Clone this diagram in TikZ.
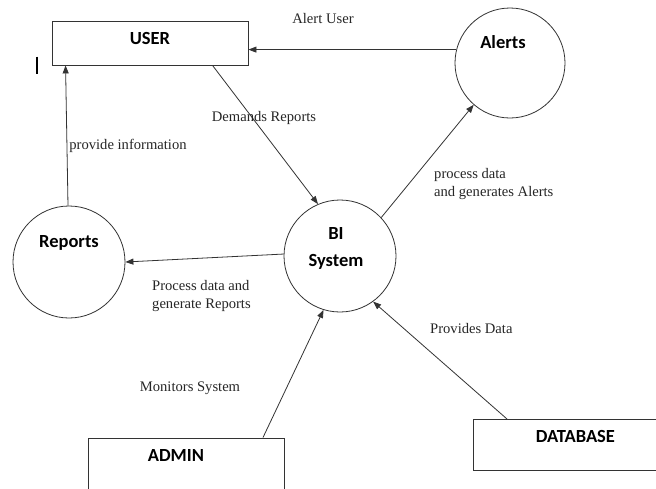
\documentclass[tikz,border=0pt]{standalone}
\usepackage{fontspec}
\setmainfont{Liberation Serif}
\newfontfamily\boxfont{Carlito}
\usetikzlibrary{arrows.meta,calc}
\tikzset{
  ent/.style={draw=black!80, line width=0.9pt, rectangle, inner sep=0pt},
  proc/.style={draw=black!80, line width=0.8pt, circle, inner sep=0pt},
  bl/.style={font=\boxfont\bfseries\fontsize{18.5}{22}\selectfont, text=black},
  lbl/.style={font=\fontsize{14.6}{18}\selectfont, text=black!85, inner sep=0pt},
  flow/.style={draw=black!80, line width=0.8pt, -{Triangle[length=8pt,width=6pt]}}
}
\begin{document}
\begin{tikzpicture}[x=1pt,y=-1pt]
\useasboundingbox[fill=white] (0,0) rectangle (656,488);
% entities
\node[ent, minimum width=196pt, minimum height=44pt,
  label={[bl, yshift=5pt]center:USER}] (user) at (150,43) {};
\node[ent, minimum width=196pt, minimum height=70pt, anchor=north west,
  label={[bl, xshift=-10.5pt, yshift=17pt]center:ADMIN}] (admin) at (88,437.5) {};
\node[ent, minimum width=200pt, minimum height=51pt, anchor=north west,
  label={[bl, xshift=2pt, yshift=8pt]center:DATABASE}] (db) at (473,419) {};
% processes
\node[proc, minimum size=110pt,
  label={[bl, xshift=-7pt, yshift=21pt]center:Alerts}] (alerts) at (510,63) {};
\node[proc, minimum size=112pt,
  label={[bl, yshift=19pt]center:Reports}] (reports) at (69,262) {};
\node[proc, minimum size=112pt,
  label={[bl, align=center, xshift=-4pt, yshift=7.5pt]center:BI\\[5pt]System}] (bi) at (340,256) {};
% cursor mark
\coordinate (ma) at (37,56.5);
\coordinate (mb) at (37,74);
\draw[line width=2.2pt, black] (ma) -- (mb);
% flows
\draw[flow] (alerts.166) -- (alerts.166 -| user.east);
\draw[flow] ($(user.south west)+(161,0)$) -- (bi.113);
\draw[flow] ($(reports.north)+(-1,0)$) -- ($(user.south west)+(14,0)$);
\draw[flow] (bi.178) -- (reports.east);
\draw[flow] (bi.43) -- (alerts.229);
\draw[flow] ($(admin.north west)+(175,0)$) -- (bi.253);
\draw[flow] ($(db.north west)+(34,0)$) -- (bi.306);
% labels
\node[lbl] (l1) at (323,19) {Alert User};
\node[lbl] (l2) at (264,118) {Demands Reports};
\node[lbl] (l3) at (128,146) {provide information};
\node[lbl, anchor=west, align=left] (l4) at (434,184) {process data\\and generates Alerts};
\node[lbl, anchor=west, align=left] (l5) at (152,296.5) {Process data and\\generate Reports};
\node[lbl] (l6) at (190,388) {Monitors System};
\node[lbl, anchor=west] (l7) at (430,328) {Provides Data};
\end{tikzpicture}
\end{document}
